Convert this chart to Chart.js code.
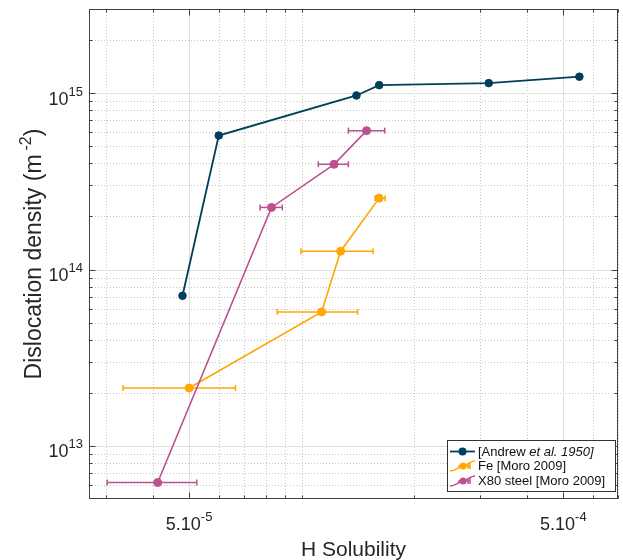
<!DOCTYPE html>
<html>
<head>
<meta charset="utf-8">
<script src="https://cdn.jsdelivr.net/npm/chart.js@4.4.0/dist/chart.umd.min.js"></script>
<style>
  body { margin: 0; background: #fff; }
  canvas { display: block; }
</style>
</head>
<body>
<canvas id="dislocationChart" width="623" height="560"></canvas>
<script>
// [Andrew et al. 1950]
const andrewSolubility = [4.8e-5, 6.0e-5, 1.40e-4, 1.61e-4, 3.16e-4, 5.52e-4];
const andrewDensity = [7.1e13, 5.75e14, 9.7e14, 1.11e15, 1.14e15, 1.24e15];

// Fe [Moro 2009]
const feSolubility = [5.0e-5, 1.13e-4, 1.27e-4, 1.61e-4];
const feSolubilityLow = [3.33e-5, 8.6e-5, 9.95e-5, 1.57e-4];
const feSolubilityHigh = [6.65e-5, 1.41e-4, 1.55e-4, 1.67e-4];
const feDensity = [2.13e13, 5.75e13, 1.27e14, 2.54e14];

// X80 steel [Moro 2009]
const x80Solubility = [4.12e-5, 8.3e-5, 1.22e-4, 1.49e-4];
const x80SolubilityLow = [3.02e-5, 7.74e-5, 1.107e-4, 1.332e-4];
const x80SolubilityHigh = [5.24e-5, 8.87e-5, 1.332e-4, 1.666e-4];
const x80Density = [6.2e12, 2.25e14, 3.95e14, 6.13e14];

// axes
const xRange = [2.7e-5, 7e-4];
const yRange = [5e12, 3e15];
const xMajorTicks = [5e-5, 5e-4];
const xTickLabels = [["5.10", "-5"], ["5.10", "-4"]];
const xMinorTicks = [3e-5, 4e-5, 6e-5, 7e-5, 8e-5, 9e-5, 1e-4, 2e-4, 3e-4, 4e-4, 6e-4, 7e-4];
const yMajorTicks = [1e13, 1e14, 1e15];
const yTickLabels = [["10", "13"], ["10", "14"], ["10", "15"]];
const yMinorTicks = [6e12, 7e12, 8e12, 9e12,
  2e13, 3e13, 4e13, 5e13, 6e13, 7e13, 8e13, 9e13,
  2e14, 3e14, 4e14, 5e14, 6e14, 7e14, 8e14, 9e14, 2e15];

const xTitle = "H Solubility";
const yTitle = ["Dislocation density (m", "-2", ")"];
const legendLabels = [
  [["[Andrew ", false], ["et al. 1950]", true]],
  [["Fe [Moro 2009]", false]],
  [["X80 steel [Moro 2009]", false]],
];

const navy = "#003f5c";
const orange = "#ffa600";
const pink = "#bc5090";
const FONT = "'Liberation Sans', Arial, Helvetica, sans-serif";

const toPoints = (xs, ys) => xs.map((x, i) => ({ x: x, y: ys[i] }));

const line = (ctx, x1, y1, x2, y2) => {
  ctx.beginPath();
  ctx.moveTo(x1, y1);
  ctx.lineTo(x2, y2);
  ctx.stroke();
};

// base text with a superscript, anchored by align ("center" / "right")
const supText = (ctx, base, sup, x, y, align, size, supSize) => {
  ctx.font = size + "px " + FONT;
  const wb = ctx.measureText(base).width;
  ctx.font = supSize + "px " + FONT;
  const ws = ctx.measureText(sup).width;
  let left = x;
  if (align === "center") left = x - (wb + ws) / 2;
  if (align === "right") left = x - wb - ws;
  ctx.textAlign = "left";
  ctx.textBaseline = "alphabetic";
  ctx.font = size + "px " + FONT;
  ctx.fillText(base, left, y);
  ctx.font = supSize + "px " + FONT;
  ctx.fillText(sup, left + wb, y - 9);
};

const decorations = {
  id: "decorations",
  beforeDraw(chart) {
    const ctx = chart.ctx;
    ctx.save();
    ctx.fillStyle = "#fff";
    ctx.fillRect(0, 0, chart.width, chart.height);
    ctx.restore();
  },
  beforeDatasetsDraw(chart) {
    const { ctx, chartArea: a, scales: { x, y } } = chart;
    ctx.save();
    ctx.lineWidth = 1;
    // minor grid
    ctx.strokeStyle = "#c8c8c8";
    ctx.setLineDash([1, 2]);
    xMinorTicks.forEach((v) => {
      const px = Math.round(x.getPixelForValue(v)) + 0.5;
      line(ctx, px, a.top, px, a.bottom);
    });
    yMinorTicks.forEach((v) => {
      const py = Math.round(y.getPixelForValue(v)) + 0.5;
      line(ctx, a.left, py, a.right, py);
    });
    // major grid
    ctx.setLineDash([]);
    ctx.strokeStyle = "#e0e0e0";
    xMajorTicks.forEach((v) => {
      const px = Math.round(x.getPixelForValue(v)) + 0.5;
      line(ctx, px, a.top, px, a.bottom);
    });
    yMajorTicks.forEach((v) => {
      const py = Math.round(y.getPixelForValue(v)) + 0.5;
      line(ctx, a.left, py, a.right, py);
    });
    // horizontal error bars
    chart.data.datasets.forEach((ds) => {
      if (!ds.xLow) return;
      ctx.strokeStyle = ds.borderColor;
      ctx.lineWidth = 1.5;
      ds.data.forEach((p, j) => {
        const py = y.getPixelForValue(p.y);
        const x1 = x.getPixelForValue(ds.xLow[j]);
        const x2 = x.getPixelForValue(ds.xHigh[j]);
        line(ctx, x1, py, x2, py);
        line(ctx, x1, py - 3, x1, py + 3);
        line(ctx, x2, py - 3, x2, py + 3);
      });
    });
    ctx.restore();
  },
  afterDatasetsDraw(chart) {
    const { ctx, chartArea: a, scales: { x, y } } = chart;
    const L = a.left + 0.5, R = Math.round(a.right) - 0.5;
    const T = a.top + 0.5, B = Math.round(a.bottom) - 0.5;
    ctx.save();
    ctx.strokeStyle = "#404040";
    ctx.lineWidth = 1;
    ctx.strokeRect(L, T, R - L, B - T);

    // inward ticks on all sides
    const xTick = (v, len) => {
      const px = Math.round(x.getPixelForValue(v)) + 0.5;
      line(ctx, px, B, px, B - len);
      line(ctx, px, T, px, T + len);
    };
    const yTick = (v, len) => {
      const py = Math.round(y.getPixelForValue(v)) + 0.5;
      line(ctx, L, py, L + len, py);
      line(ctx, R, py, R - len, py);
    };
    xMinorTicks.forEach((v) => xTick(v, 3));
    yMinorTicks.forEach((v) => yTick(v, 3));
    xMajorTicks.forEach((v) => xTick(v, 6));
    yMajorTicks.forEach((v) => yTick(v, 6));

    // tick labels
    ctx.fillStyle = "#262626";
    xMajorTicks.forEach((v, i) => {
      supText(ctx, xTickLabels[i][0], xTickLabels[i][1], x.getPixelForValue(v), 530, "center", 18, 13);
    });
    yMajorTicks.forEach((v, i) => {
      supText(ctx, yTickLabels[i][0], yTickLabels[i][1], 83, y.getPixelForValue(v) + 11.5, "right", 18, 13);
    });

    // axis titles
    ctx.font = "21px " + FONT;
    ctx.textAlign = "center";
    ctx.textBaseline = "alphabetic";
    ctx.fillText(xTitle, (a.left + a.right) / 2, 556);

    ctx.save();
    ctx.translate(41, (a.top + a.bottom) / 2);
    ctx.rotate(-Math.PI / 2);
    ctx.font = "23px " + FONT;
    const w0 = ctx.measureText(yTitle[0]).width;
    const w2 = ctx.measureText(yTitle[2]).width;
    ctx.font = "16px " + FONT;
    const w1 = ctx.measureText(yTitle[1]).width;
    const gap = 4;
    let sx = -(w0 + gap + w1 + w2) / 2;
    ctx.textAlign = "left";
    ctx.font = "23px " + FONT;
    ctx.fillText(yTitle[0], sx, 0);
    ctx.font = "16px " + FONT;
    ctx.fillText(yTitle[1], sx + w0 + gap, -10);
    ctx.font = "23px " + FONT;
    ctx.fillText(yTitle[2], sx + w0 + gap + w1, 0);
    ctx.restore();

    // legend
    const bx = 447.5, by = 440.5, bw = 168, bh = 51;
    ctx.fillStyle = "#fff";
    ctx.fillRect(bx, by, bw, bh);
    ctx.strokeStyle = "#333";
    ctx.lineWidth = 1;
    ctx.strokeRect(bx, by, bw, bh);
    const rows = [451.5, 466, 481];
    const colors = [navy, orange, pink];
    rows.forEach((ry, i) => {
      const c = colors[i];
      ctx.strokeStyle = c;
      ctx.fillStyle = c;
      if (i === 0) {
        ctx.lineWidth = 1.8;
        line(ctx, 450, ry, 475, ry);
        ctx.beginPath();
        ctx.arc(462.5, ry, 4, 0, Math.PI * 2);
        ctx.fill();
      } else {
        ctx.lineWidth = 1.5;
        ctx.beginPath();
        ctx.moveTo(450, ry + 5);
        ctx.bezierCurveTo(456, ry + 5, 458, ry + 1, 463, ry);
        ctx.bezierCurveTo(468, ry - 1, 470, ry - 5, 475, ry - 5);
        ctx.stroke();
        line(ctx, 458, ry, 470, ry);
        line(ctx, 470, ry - 3, 470, ry + 3);
        line(ctx, 468, ry - 3, 468, ry + 3);
        ctx.beginPath();
        ctx.arc(463, ry, 3.5, 0, Math.PI * 2);
        ctx.fill();
      }
      ctx.fillStyle = "#111";
      ctx.textAlign = "left";
      ctx.textBaseline = "middle";
      let tx = 478;
      legendLabels[i].forEach(([txt, italic]) => {
        ctx.font = (italic ? "italic " : "") + "13px " + FONT;
        ctx.fillText(txt, tx, ry + 0.5);
        tx += ctx.measureText(txt).width;
      });
    });
    ctx.restore();
  },
};

new Chart(document.getElementById("dislocationChart"), {
  type: "scatter",
  data: {
    datasets: [
      {
        label: "X80 steel [Moro 2009]",
        data: toPoints(x80Solubility, x80Density),
        xLow: x80SolubilityLow,
        xHigh: x80SolubilityHigh,
        borderColor: pink,
        backgroundColor: pink,
        pointBackgroundColor: pink,
        borderWidth: 1.6,
        pointRadius: 4,
        pointBorderWidth: 1,
        showLine: true,
        order: 0,
      },
      {
        label: "Fe [Moro 2009]",
        data: toPoints(feSolubility, feDensity),
        xLow: feSolubilityLow,
        xHigh: feSolubilityHigh,
        borderColor: orange,
        backgroundColor: orange,
        pointBackgroundColor: orange,
        borderWidth: 1.6,
        pointRadius: 4,
        pointBorderWidth: 1,
        showLine: true,
        order: 1,
      },
      {
        label: "[Andrew et al. 1950]",
        data: toPoints(andrewSolubility, andrewDensity),
        borderColor: navy,
        backgroundColor: navy,
        pointBackgroundColor: navy,
        borderWidth: 1.8,
        pointRadius: 3.8,
        pointBorderWidth: 1,
        showLine: true,
        order: 2,
      },
    ],
  },
  options: {
    responsive: false,
    animation: false,
    layout: { padding: { left: 89, right: 5, top: 9, bottom: 61 } },
    scales: {
      x: { type: "logarithmic", min: xRange[0], max: xRange[1], display: false },
      y: { type: "logarithmic", min: yRange[0], max: yRange[1], display: false },
    },
    plugins: {
      legend: { display: false },
      tooltip: { enabled: false },
    },
  },
  plugins: [decorations],
});
</script>
</body>
</html>
